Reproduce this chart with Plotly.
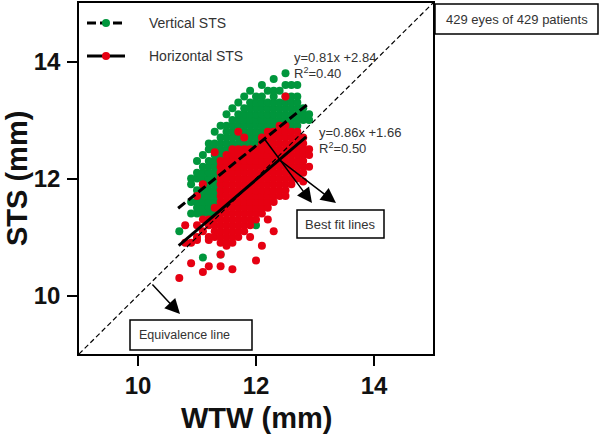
import plotly.graph_objects as go

# ---------------- data ----------------
# Vertical STS (green) : WTW column values and STS values in each column
green_cols_x = [10.9, 11.0, 11.1, 11.2, 11.3, 11.4, 11.5, 11.6, 11.7, 11.8, 11.9,
                12.0, 12.1, 12.2, 12.3, 12.4, 12.5, 12.6, 12.7, 12.8, 12.9]
green_cols_y = [
    [11.4, 11.6, 11.9, 12.0],
    [11.4, 11.5, 11.6, 11.7, 11.8, 12.0, 12.1, 12.3],
    [11.4, 11.5, 11.6, 11.7, 11.8, 11.9, 12.0, 12.1, 12.2, 12.4],
    [11.4, 11.5, 11.6, 11.7, 11.8, 11.9, 12.0, 12.1, 12.2, 12.3, 12.5, 12.6],
    [11.4, 11.5, 11.6, 11.7, 11.8, 11.9, 12.0, 12.1, 12.2, 12.3, 12.4, 12.5, 12.6, 12.8],
    [11.6, 11.8, 11.9, 12.0, 12.1, 12.2, 12.3, 12.4, 12.5, 12.6, 12.7, 12.9],
    [12.0, 12.1, 12.2, 12.3, 12.4, 12.5, 12.6, 12.7, 12.8, 12.9, 13.1],
    [12.1, 12.2, 12.3, 12.4, 12.5, 12.6, 12.7, 12.8, 12.9, 13.0, 13.2],
    [12.2, 12.3, 12.4, 12.5, 12.6, 12.7, 12.8, 12.9, 13.0, 13.1, 13.3],
    [12.2, 12.3, 12.4, 12.5, 12.6, 12.7, 12.8, 12.9, 13.0, 13.1, 13.2, 13.4],
    [12.3, 12.4, 12.5, 12.6, 12.7, 12.8, 12.9, 13.0, 13.1, 13.2, 13.3, 13.5],
    [12.4, 12.5, 12.6, 12.7, 12.8, 12.9, 13.0, 13.1, 13.2, 13.3, 13.4],
    [12.5, 12.6, 12.7, 12.8, 12.9, 13.0, 13.1, 13.2, 13.3, 13.4, 13.6],
    [12.6, 12.7, 12.8, 12.9, 13.0, 13.1, 13.2, 13.3, 13.5],
    [12.7, 12.8, 12.9, 13.0, 13.1, 13.2, 13.3, 13.4, 13.5, 13.7],
    [12.8, 12.9, 13.0, 13.1, 13.2, 13.3, 13.5],
    [12.8, 12.9, 13.0, 13.1, 13.2, 13.3, 13.4, 13.6, 13.8],
    [12.9, 13.0, 13.1, 13.2, 13.3, 13.4, 13.6],
    [12.9, 13.0, 13.1, 13.2, 13.3, 13.4, 13.6],
    [13.0, 13.1, 13.2],
    [13.0, 13.1],
]
green_extra_x = [10.7, 11.1, 11.4, 12.0]
green_extra_y = [11.1, 10.65, 10.7, 11.2]

# Horizontal STS (red)
red_cols_x = [11.0, 11.1, 11.2, 11.3, 11.4, 11.5, 11.6, 11.7, 11.8, 11.9,
              12.0, 12.1, 12.2, 12.3, 12.4, 12.5, 12.6, 12.7, 12.8, 12.9]
red_cols_y = [
    [11.0, 11.2, 11.7],
    [11.1, 11.3, 11.9],
    [11.0, 11.2, 11.3],
    [11.0, 11.1, 11.2, 11.3, 11.5],
    [10.9, 11.0, 11.1, 11.2, 11.3, 11.4, 11.5, 11.6, 11.7, 11.8, 11.9, 12.0, 12.1, 12.2, 12.3],
    [10.9, 11.0, 11.1, 11.2, 11.3, 11.4, 11.5, 11.6, 11.7, 11.8, 11.9, 12.0, 12.1, 12.2, 12.3, 12.4],
    [10.9, 11.0, 11.1, 11.2, 11.3, 11.4, 11.5, 11.6, 11.7, 11.8, 11.9, 12.0, 12.1, 12.2, 12.3, 12.4, 12.5],
    [11.0, 11.1, 11.2, 11.3, 11.4, 11.5, 11.6, 11.7, 11.8, 11.9, 12.0, 12.1, 12.2, 12.3, 12.4, 12.5],
    [11.1, 11.2, 11.3, 11.4, 11.5, 11.6, 11.7, 11.8, 11.9, 12.0, 12.1, 12.2, 12.3, 12.4, 12.5, 12.7],
    [11.2, 11.3, 11.4, 11.5, 11.6, 11.7, 11.8, 11.9, 12.0, 12.1, 12.2, 12.3, 12.4, 12.5],
    [11.3, 11.4, 11.5, 11.6, 11.7, 11.8, 11.9, 12.0, 12.1, 12.2, 12.3, 12.4, 12.5],
    [11.4, 11.5, 11.6, 11.7, 11.8, 11.9, 12.0, 12.1, 12.2, 12.3, 12.4, 12.5, 12.6, 12.7],
    [11.5, 11.6, 11.7, 11.8, 11.9, 12.0, 12.1, 12.2, 12.3, 12.4, 12.5, 12.6, 12.7, 12.8],
    [11.6, 11.7, 11.8, 11.9, 12.0, 12.1, 12.2, 12.3, 12.4, 12.5, 12.6, 12.7, 12.8],
    [11.7, 11.8, 11.9, 12.0, 12.1, 12.2, 12.3, 12.4, 12.5, 12.6, 12.7, 12.8, 12.9],
    [11.8, 11.9, 12.0, 12.1, 12.2, 12.3, 12.4, 12.5, 12.6, 12.7, 12.8, 12.9],
    [11.9, 12.0, 12.1, 12.2, 12.3, 12.4, 12.5, 12.6, 12.7, 12.8],
    [12.0, 12.1, 12.2, 12.3, 12.4, 12.5, 12.6, 12.7, 12.8],
    [12.1, 12.2, 12.3, 12.4, 12.5, 12.6, 12.7],
    [12.2, 12.4, 12.5],
]
red_extra_x = [10.7, 10.9, 11.1, 11.2, 11.4, 11.4, 11.6, 12.0, 12.1, 11.5, 11.2,
               11.0, 12.3, 12.5, 12.5, 11.7, 11.3, 10.8, 10.8, 12.8, 12.2, 11.9, 10.9]
red_extra_y = [10.3, 10.55, 10.4, 10.5, 10.5, 10.7, 10.45, 10.6, 10.85, 10.85, 10.95,
               10.95, 11.1, 11.7, 13.4, 12.8, 12.45, 10.9, 11.2, 11.95, 11.3, 11.0, 10.9]

# best fit lines: slope, intercept, x-extent
vert_fit = dict(slope=0.81, intercept=2.84, x=[10.68, 12.88])
horiz_fit = dict(slope=0.86, intercept=1.66, x=[10.69, 12.85])
equiv_x = [9, 15]
equiv_y = [9, 15]

axis_range = [9, 15]
tick_vals = [10, 12, 14]

GREEN = "#00963c"
RED = "#e60012"
TXT = "#333333"
FONT = "Arial, Liberation Sans, sans-serif"


def flatten(cols_x, cols_y, ex_x, ex_y):
    xs, ys = [], []
    for cx, cy in zip(cols_x, cols_y):
        for v in cy:
            xs.append(cx)
            ys.append(v)
    return xs + ex_x, ys + ex_y


gx, gy = flatten(green_cols_x, green_cols_y, green_extra_x, green_extra_y)
rx, ry = flatten(red_cols_x, red_cols_y, red_extra_x, red_extra_y)

# ---------------- figure ----------------
W, H = 601, 438
L, R, T, B = 79, 433, 3, 354


def px(x):
    return (x - L) / (R - L)


def py(y):
    return (B - y) / (B - T)


fig = go.Figure()
fig.add_trace(go.Scatter(x=gx, y=gy, mode="markers",
                         marker=dict(size=8, color=GREEN, line=dict(width=0)),
                         hoverinfo="skip"))
fig.add_trace(go.Scatter(x=rx, y=ry, mode="markers",
                         marker=dict(size=8, color=RED, line=dict(width=0)),
                         hoverinfo="skip"))
fig.add_trace(go.Scatter(x=equiv_x, y=equiv_y, mode="lines",
                         line=dict(color="black", width=1.2, dash="5px,3px"),
                         hoverinfo="skip"))
for fit, dash in [(vert_fit, "9px,4px"), (horiz_fit, "solid")]:
    xs = fit["x"]
    ys = [fit["slope"] * v + fit["intercept"] for v in xs]
    fig.add_trace(go.Scatter(x=xs, y=ys, mode="lines",
                             line=dict(color="black", width=3, dash=dash),
                             hoverinfo="skip"))

axis_common = dict(range=axis_range, tickvals=tick_vals, ticks="outside",
                   ticklen=10, tickwidth=1.5, tickcolor="black",
                   showline=True, linecolor="black", linewidth=1.6, mirror=True,
                   showgrid=False, zeroline=False, automargin=False,
                   tickfont=dict(family=FONT, size=24, color="#111", weight="bold"))

fig.update_layout(
    width=W, height=H,
    margin=dict(l=L, r=W - R, t=T, b=H - B, pad=0, autoexpand=False),
    plot_bgcolor="white", paper_bgcolor="white",
    showlegend=False,
    xaxis=dict(**axis_common, ticklabelstandoff=-1),
    yaxis=dict(**axis_common, ticklabelstandoff=2),
)

shapes = []
annotations = []

# axis titles
annotations.append(dict(text="WTW (mm)", x=px(256), y=py(418), xref="paper", yref="paper",
                        showarrow=False, xanchor="center", yanchor="middle",
                        font=dict(family=FONT, size=29, color="#111", weight="bold")))
annotations.append(dict(text="STS (mm)", x=px(17), y=py(179), xref="paper", yref="paper",
                        showarrow=False, xanchor="center", yanchor="middle", textangle=-90,
                        font=dict(family=FONT, size=29, color="#111", weight="bold")))

# legend
for ypix, dash, col, label in [(23, "dash", GREEN, "Vertical STS"),
                               (56, "solid", RED, "Horizontal STS")]:
    shapes.append(dict(type="line", xref="paper", yref="paper",
                       x0=px(87), x1=px(125), y0=py(ypix), y1=py(ypix),
                       line=dict(color="black", width=3,
                                 dash="9px,4px" if dash == "dash" else "solid")))
    shapes.append(dict(type="circle", xref="paper", yref="paper",
                       xsizemode="pixel", ysizemode="pixel",
                       xanchor=px(106), yanchor=py(ypix),
                       x0=-4, x1=4, y0=-4, y1=4,
                       fillcolor=col, line=dict(width=0)))
    annotations.append(dict(text=label, x=px(147), y=py(ypix), xref="paper", yref="paper",
                            showarrow=False, xanchor="left", yanchor="middle",
                            font=dict(family=FONT, size=14, color=TXT)))

# equations
for xl, ytop, eq, r2 in [(292, 57, "y=0.81x +2.84", "R<sup>2</sup>=0.40"),
                          (317, 132, "y=0.86x +1.66", "R<sup>2</sup>=0.50")]:
    annotations.append(dict(text=eq, x=px(xl), y=py(ytop), xref="paper", yref="paper",
                            showarrow=False, xanchor="left", yanchor="middle",
                            font=dict(family=FONT, size=13, color=TXT)))
    annotations.append(dict(text=r2, x=px(xl), y=py(ytop + 16), xref="paper", yref="paper",
                            showarrow=False, xanchor="left", yanchor="middle",
                            font=dict(family=FONT, size=13, color=TXT)))

# boxes
for (x0, x1, y0, y1, txt, tx, anchor, fs) in [
        (435, 598, 4, 34, "429 eyes of 429 patients", 516.5, "center", 13),
        (297, 384, 210, 238, "Best fit lines", 340.5, "center", 13),
        (130, 252, 320, 350, "Equivalence line", 137, "left", 12.5)]:
    shapes.append(dict(type="rect", xref="paper", yref="paper",
                       x0=px(x0), x1=px(x1), y0=py(y1), y1=py(y0),
                       line=dict(color="black", width=1.5), fillcolor="white"))
    annotations.append(dict(text=txt, x=px(tx), y=py((y0 + y1) / 2), xref="paper", yref="paper",
                            showarrow=False, xanchor=anchor, yanchor="middle",
                            font=dict(family=FONT, size=fs, color=TXT)))

# arrows
for (tx0, ty0, hx, hy) in [(263, 137, 312, 203), (277, 158, 336, 203), (151, 283, 180, 314)]:
    annotations.append(dict(text="", x=px(hx), y=py(hy), xref="paper", yref="paper",
                            ax=tx0 - hx, ay=ty0 - hy, axref="pixel", ayref="pixel",
                            showarrow=True, arrowhead=2, arrowsize=2, arrowwidth=1.5,
                            arrowcolor="black", standoff=0))

fig.update_layout(shapes=shapes, annotations=annotations)
fig.write_html("out.html", config={"displayModeBar": False},
               post_script="document.body.style.margin='0px';document.body.style.padding='0px';")
